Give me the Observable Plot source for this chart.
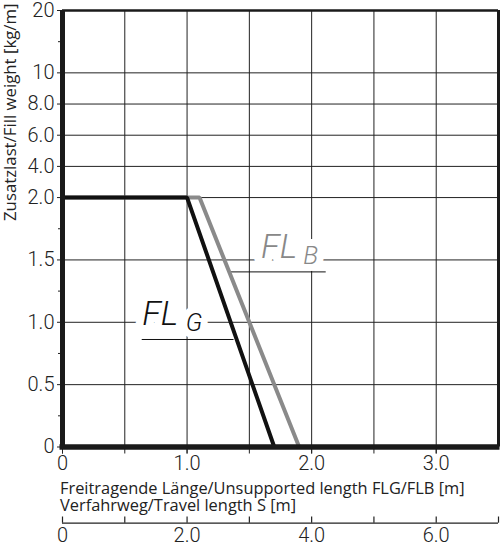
<!DOCTYPE html>
<html><head><meta charset="utf-8">
<script src="https://cdn.jsdelivr.net/npm/d3@7"></script>
<script src="https://cdn.jsdelivr.net/npm/@observablehq/plot@0.6"></script>
<style>
body{margin:0;background:#fff;}
#wrap{position:relative;width:500px;height:555px;overflow:hidden;}
#main{position:absolute;left:0;top:0;}
#second{position:absolute;left:0;top:500px;}
.ttl{position:absolute;left:60px;font-family:"Open Sans";font-size:16.4px;line-height:17px;color:#222;white-space:nowrap;}
</style></head><body>
<div id="wrap">
  <div id="main"></div>
  <div class="ttl" id="t1" style="top:479px"></div>
  <div class="ttl" id="t2" style="top:496px"></div>
  <div id="second"></div>
</div>
<script>
// ---- data ----
const lengthTicks = [0, 1, 2, 3];
const lengthGrid = [0.5, 1, 1.5, 2, 2.5, 3];
const lengthMinor = [0, 0.5, 1, 1.5, 2, 2.5, 3];
const weightTicks = [0, 0.5, 1, 1.5, 2, 4, 6, 8, 10, 20];
const weightLabels = ["0", "0.5", "1.0", "1.5", "2.0", "4.0", "6.0", "8.0", "10", "20"];
const weightMinor = [0.25, 0.75, 1.25, 1.75, 15];
const weightGrid = [0.5, 1, 1.5, 2, 4, 6, 8, 10];
const flgLength = [0, 1.0, 1.7];
const flgWeight = [2, 2, 0];
const flbLength = [0, 1.1, 1.9];
const flbWeight = [2, 2, 0];
const travelTicks = [0, 1, 2, 3, 4, 5, 6, 7];
const travelLabels = [0, 2, 4, 6];
const yTitle = "Zusatzlast/Fill weight [kg/m]";
const xTitle1 = "Freitragende Länge/Unsupported length FLG/FLB [m]";
const xTitle2 = "Verfahrweg/Travel length S [m]";
// annotation anchors (data units)
const labelG = {main: "FL", sub: "G", x: 0.64, y: 0.98, subX: 0.99, subY: 0.93, ux1: 0.64, ux2: 1.377, uy: 0.862};
const labelB = {main: "FL", sub: "B", x: 1.594, y: 1.518, subX: 1.932, subY: 1.468, ux1: 1.345, ux2: 2.117, uy: 1.404};

// broken (piecewise) weight axis: 0–2 linear, 2–10 compressed, 10–20 further compressed
const seg = w => w <= 2 ? w * 2 : w <= 10 ? 4 + (w - 2) / 4 : 6 + (w - 10) / 10;

const flg = flgLength.map((x, i) => ({x, y: flgWeight[i]}));
const flb = flbLength.map((x, i) => ({x, y: flbWeight[i]}));
const wFmt = u => { const i = weightTicks.findIndex(w => Math.abs(seg(w) - u) < 1e-9); return i < 0 ? "" : weightLabels[i]; };
const lFmt = d => d === 0 ? "0" : d.toFixed(1);
const blank = () => "";

const W = 500, H = 480, mL = 62, mR = 2, mT = 10, mB = 33.5;

const labelFont = {fontFamily: "Roboto", fontStyle: "italic", fontWeight: 300};

function label(l, color) {
  return [
    Plot.text([l], {x: "x", y: d => seg(d.y), text: "main", textAnchor: "start", lineAnchor: "bottom", fontSize: 34, fill: "white", stroke: "white", strokeWidth: 16, strokeLinejoin: "round", ...labelFont}),
    Plot.text([l], {x: "subX", y: d => seg(d.subY), text: "sub", textAnchor: "start", lineAnchor: "bottom", fontSize: 25, fill: "white", stroke: "white", strokeWidth: 14, strokeLinejoin: "round", ...labelFont}),
    Plot.text([l], {x: "x", y: d => seg(d.y), text: "main", textAnchor: "start", lineAnchor: "bottom", fontSize: 34, fill: color, ...labelFont}),
    Plot.text([l], {x: "subX", y: d => seg(d.subY), text: "sub", textAnchor: "start", lineAnchor: "bottom", fontSize: 25, fill: color, ...labelFont}),
    Plot.ruleY([l], {x1: "ux1", x2: "ux2", y: d => seg(d.uy), stroke: "#111", strokeWidth: 1})
  ];
}

const main = Plot.plot({
  width: W, height: H,
  marginLeft: mL, marginRight: mR, marginTop: mT, marginBottom: mB,
  style: {fontFamily: "Roboto", fontSize: "20px", fontWeight: 300, color: "#222", background: "white", overflow: "visible"},
  x: {domain: [0, 3.5], axis: null},
  y: {domain: [0, seg(20)], axis: null},
  marks: [
    Plot.ruleX(lengthGrid, {stroke: "#222", strokeWidth: 1}),
    Plot.ruleY(weightGrid.map(seg), {stroke: "#222", strokeWidth: 1}),
    Plot.axisY({ticks: weightMinor.map(seg), tickFormat: blank, tickSize: 4, stroke: "#222", strokeWidth: 1}),
    Plot.axisY({ticks: weightTicks.map(seg), tickFormat: wFmt, tickSize: 5, tickPadding: 3, letterSpacing: -1, stroke: "#222", strokeWidth: 1}),
    Plot.axisX({ticks: lengthMinor, tickFormat: blank, tickSize: 7, stroke: "#222", strokeWidth: 1}),
    Plot.axisX({ticks: lengthTicks, tickFormat: lFmt, tickSize: 7, tickPadding: 2, letterSpacing: -1, stroke: "#222", strokeWidth: 1}),
    ...label(labelG, "#111"),
    ...label(labelB, "#888"),
    Plot.line(flb, {x: "x", y: d => seg(d.y), stroke: "#8a8a8a", strokeWidth: 4, strokeLinejoin: "miter"}),
    Plot.line(flg, {x: "x", y: d => seg(d.y), stroke: "#111", strokeWidth: 4, strokeLinejoin: "miter"}),
    Plot.ruleY([seg(20)], {stroke: "#1a1a1a", strokeWidth: 2.5}),
    Plot.ruleX([3.5], {stroke: "#1a1a1a", strokeWidth: 3}),
    Plot.ruleX([0], {stroke: "#1a1a1a", strokeWidth: 5}),
    Plot.ruleY([0], {stroke: "#1a1a1a", strokeWidth: 5.5, x1: -0.02, x2: 3.512}),
    Plot.text([yTitle], {frameAnchor: "top-left", rotate: -90, textAnchor: "end", lineAnchor: "middle", dx: -52, dy: -7, text: d => d, fontFamily: "Open Sans", fontSize: 16.8, fontWeight: 400, fill: "#222"})
  ]
});
document.getElementById("main").appendChild(main);
document.getElementById("t1").textContent = xTitle1;
document.getElementById("t2").textContent = xTitle2;

const second = Plot.plot({
  width: W, height: 55,
  marginLeft: mL, marginRight: mR, marginTop: 16.5, marginBottom: 32.3,
  style: {fontFamily: "Roboto", fontSize: "20px", fontWeight: 300, color: "#222", background: "transparent"},
  x: {domain: [0, 7], axis: null},
  y: {domain: [0, 1], axis: null},
  marks: [
    Plot.ruleY([0], {stroke: "#222", strokeWidth: 1.2}),
    Plot.ruleX(travelTicks, {y1: 0, y2: 1, stroke: "#222", strokeWidth: 1.2}),
    Plot.axisX({ticks: travelLabels, tickFormat: lFmt, tickSize: 0, tickPadding: 5, letterSpacing: -1})
  ]
});
document.getElementById("second").appendChild(second);
</script>
</body></html>
